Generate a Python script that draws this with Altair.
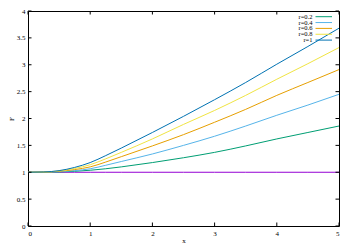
import altair as alt
import pandas as pd

# ---- data ----
x_vals = [0, 0.25, 0.5, 0.75, 1, 1.25, 1.5, 2, 2.5, 3, 3.5, 4, 4.5, 5]
F_r0 = [1.0, 1.0, 1.0, 1.0, 1.0, 1.0, 1.0, 1.0, 1.0, 1.0, 1.0, 1.0, 1.0, 1.0]
F_r02 = [1.0, 1.001, 1.005, 1.018, 1.037, 1.065, 1.10, 1.18, 1.27, 1.37, 1.49, 1.62, 1.74, 1.86]
F_r04 = [1.0, 1.002, 1.01, 1.03, 1.065, 1.13, 1.20, 1.34, 1.50, 1.67, 1.86, 2.06, 2.25, 2.45]
F_r06 = [1.0, 1.003, 1.017, 1.05, 1.10, 1.19, 1.29, 1.49, 1.70, 1.93, 2.17, 2.43, 2.67, 2.91]
F_r08 = [1.0, 1.004, 1.024, 1.07, 1.14, 1.25, 1.37, 1.62, 1.89, 2.15, 2.43, 2.73, 3.02, 3.32]
F_r1 = [1.0, 1.005, 1.03, 1.09, 1.18, 1.31, 1.45, 1.74, 2.04, 2.35, 2.67, 3.01, 3.34, 3.68]

series_names = ["r=0", "r=0.2", "r=0.4", "r=0.6", "r=0.8", "r=1"]
series_values = [F_r0, F_r02, F_r04, F_r06, F_r08, F_r1]
series_colors = ["#9400d3", "#009e73", "#56b4e9", "#e69f00", "#f0e442", "#0072b2"]
legend_labels = ["r=0.2", "r=0.4", "r=0.6", "r=0.8", "r=1"]

y_ticks = [0, 0.5, 1, 1.5, 2, 2.5, 3, 3.5, 4]
x_ticks = [0, 1, 2, 3, 4, 5]

rows = []
for k, (name, vals) in enumerate(zip(series_names, series_values)):
    for xv, fv in zip(x_vals, vals):
        rows.append({"x": xv, "F": fv, "series": name, "ord": k})
df = pd.DataFrame(rows)

W, H = 311, 215
FONT = "Liberation Serif"

xscale = alt.Scale(domain=[0, 5], nice=False, zero=False)
yscale = alt.Scale(domain=[0, 4], nice=False, zero=False)
cscale = alt.Scale(domain=series_names, range=series_colors)

xaxis = alt.Axis(values=x_ticks, format="~g", title="x",
                 titleY=14, titleX=W / 2, titleBaseline="middle",
                 labelPadding=3)
yaxis = alt.Axis(values=y_ticks, format="~g", title="F",
                 titleX=-17, titleY=H / 2, titleBaseline="middle",
                 labelPadding=3)

lines = alt.Chart(df).mark_line(strokeWidth=1, interpolate="monotone").encode(
    x=alt.X("x:Q", scale=xscale, axis=xaxis),
    y=alt.Y("F:Q", scale=yscale, axis=yaxis),
    color=alt.Color("series:N", scale=cscale, legend=None),
    order=alt.Order("ord:Q"),
)

ydf = pd.DataFrame({"F": y_ticks})
xdf = pd.DataFrame({"x": x_ticks})
TL = 3.5
tick_style = dict(color="black", strokeWidth=1)
left_t = alt.Chart(ydf).mark_rule(**tick_style).encode(
    y=alt.Y("F:Q", scale=yscale, axis=yaxis), x=alt.value(0), x2=alt.value(TL))
right_t = alt.Chart(ydf).mark_rule(**tick_style).encode(
    y=alt.Y("F:Q", scale=yscale, axis=yaxis), x=alt.value(W - TL), x2=alt.value(W))
bottom_t = alt.Chart(xdf).mark_rule(**tick_style).encode(
    x=alt.X("x:Q", scale=xscale, axis=xaxis), y=alt.value(H - TL), y2=alt.value(H))
top_t = alt.Chart(xdf).mark_rule(**tick_style).encode(
    x=alt.X("x:Q", scale=xscale, axis=xaxis), y=alt.value(0), y2=alt.value(TL))

# manual gnuplot-style key: label then line sample
leg_layers = []
for i, (lab, col) in enumerate(zip(legend_labels, series_colors[1:])):
    yy = 5.7 + 5.85 * i
    ldf = pd.DataFrame({"label": [lab]})
    leg_layers.append(
        alt.Chart(ldf).mark_text(align="right", baseline="middle", font=FONT,
                                 fontSize=6.5, color="black").encode(
            text="label:N", x=alt.value(284.5), y=alt.value(yy)))
    leg_layers.append(
        alt.Chart(ldf).mark_rule(color=col, strokeWidth=1).encode(
            x=alt.value(287.5), x2=alt.value(304), y=alt.value(yy)))

chart = alt.layer(lines, left_t, right_t, bottom_t, top_t, *leg_layers).properties(
    width=W, height=H,
    autosize=alt.AutoSizeParams(type="none"),
    padding={"left": 20, "top": 3, "right": 3, "bottom": 19},
    background="white",
).configure_view(
    stroke="black", strokeWidth=1
).configure_axis(
    labelFont=FONT, labelFontSize=7, labelColor="black",
    titleFont=FONT, titleFontSize=7, titleColor="black", titleFontWeight="normal",
    ticks=False, domain=False, grid=False,
)

chart.save("out.html", embed_options={"renderer": "svg", "actions": False})
